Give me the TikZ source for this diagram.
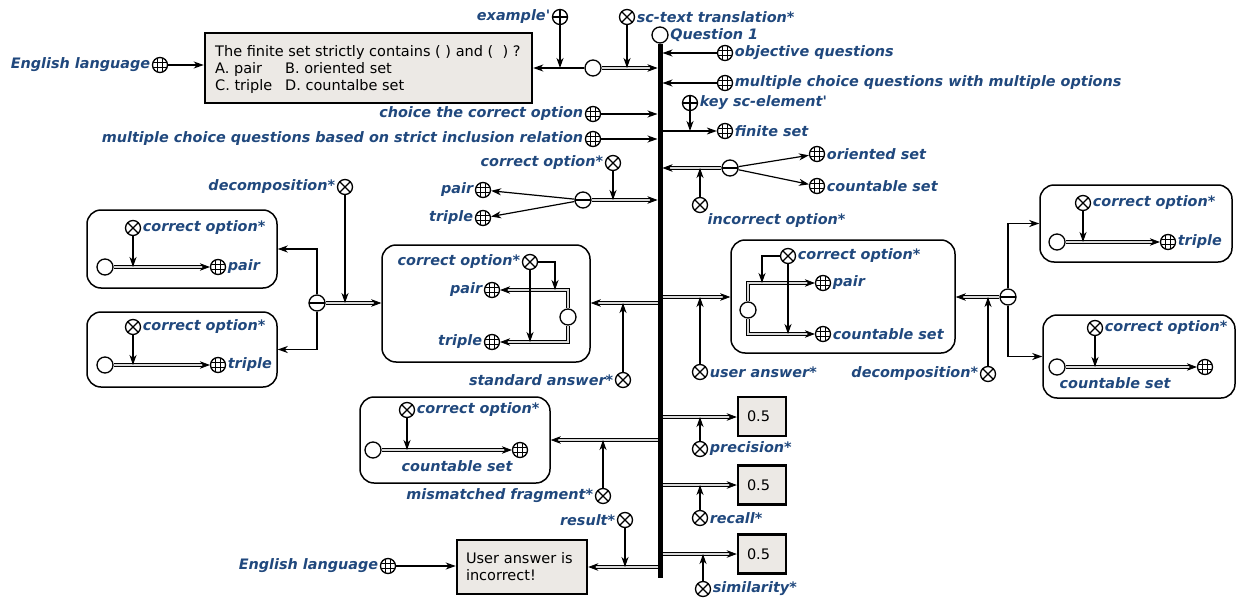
\documentclass[tikz,border=0pt]{standalone}
\usepackage{fontspec}
\setmainfont{DejaVu Sans}
\usetikzlibrary{arrows.meta,calc}
\definecolor{lblblue}{RGB}{32,72,125}
\definecolor{boxgray}{RGB}{236,233,229}
\newcommand\lblf{\fontsize{14.4}{16}\selectfont\bfseries\itshape}
\newcommand\txtf{\fontsize{14.5}{17}\selectfont}
\tikzset{
  sym/.style={circle, draw, line width=1.3pt, inner sep=0pt, minimum size=15pt, fill=white},
  gen/.style={sym, minimum size=16pt},
  cls/.style={sym, path picture={
      \draw[line width=0.7pt] ([xshift=-2.5pt]path picture bounding box.north) -- ([xshift=-2.5pt]path picture bounding box.south);
      \draw[line width=0.7pt] ([xshift=2.5pt]path picture bounding box.north) -- ([xshift=2.5pt]path picture bounding box.south);
      \draw[line width=0.7pt] ([yshift=-2.5pt]path picture bounding box.west) -- ([yshift=-2.5pt]path picture bounding box.east);
      \draw[line width=0.7pt] ([yshift=2.5pt]path picture bounding box.west) -- ([yshift=2.5pt]path picture bounding box.east);}},
  rel/.style={sym, path picture={
      \draw[line width=1.1pt] (path picture bounding box.north west) -- (path picture bounding box.south east);
      \draw[line width=1.1pt] (path picture bounding box.north east) -- (path picture bounding box.south west);}},
  role/.style={sym, path picture={
      \draw[line width=1.1pt] (path picture bounding box.north) -- (path picture bounding box.south);
      \draw[line width=1.1pt] (path picture bounding box.west) -- (path picture bounding box.east);}},
  tup/.style={sym, minimum size=16pt, path picture={
      \draw[line width=1.1pt] (path picture bounding box.west) -- (path picture bounding box.east);}},
  lbl/.style={font=\lblf, text=lblblue, inner sep=1.5pt},
  arr/.style={line width=1.2pt, -{Stealth[length=10pt,width=7pt,inset=3pt]}},
  dbl/.style={line width=0.7pt, double=gray!30, double distance=2.2pt, -{Stealth[length=10pt,width=7.5pt,inset=3pt]}},
  ctr/.style={draw, line width=1.5pt, rounded corners=14pt, inner sep=0pt},
  txtbox/.style={draw, line width=2.5pt, fill=boxgray, font=\txtf, align=left, inner xsep=9pt, inner ysep=0pt,
     path picture={\fill (path picture bounding box.north west) -- ++(6pt,0pt) -- ++(-6pt,-6pt) -- cycle;}},
  boxtext/.style={font=\txtf, align=left, inner sep=0pt, anchor=north west}
}
\begin{document}
\begin{tikzpicture}[x=1pt,y=-1pt]
\useasboundingbox (0,0) rectangle (1239,602);
% bus reference x positions
\coordinate (bL) at (657.5,0);
\coordinate (bR) at (662.5,0);
% contours
\node[ctr, minimum width=190pt, minimum height=78pt] (bl1) at (182,249) {};
\node[ctr, minimum width=190pt, minimum height=75pt] (bl2) at (182,349.5) {};
\node[ctr, minimum width=208pt, minimum height=117pt] (bm) at (486,303.5) {};
\node[ctr, minimum width=224pt, minimum height=113pt] (bu) at (843,296.5) {};
\node[ctr, minimum width=192pt, minimum height=77pt] (br1) at (1136,223.5) {};
\node[ctr, minimum width=192pt, minimum height=83pt] (br2) at (1139,356.5) {};
\node[ctr, minimum width=190pt, minimum height=86pt] (bmm) at (455,440) {};
% bus
\node[gen, label={[lbl]right:Question 1}] (q1) at (660,35) {};
\coordinate (busend) at (660,578);
\draw[line width=5pt] (q1.south) -- (busend);
% top
\node[txtbox, minimum width=327pt, minimum height=70pt] (txt) at (368.5,68) {};
\node[boxtext] (txtt) at (215,45) {The finite set strictly contains ( ) and (\ \ ) ?\\\makebox[70pt][l]{A. pair}B. oriented set\\\makebox[70pt][l]{C. triple}D. countalbe set};
\node[cls, label={[lbl]left:English language}] (eng1) at (160,65) {};
\draw[arr] (eng1) -- (txt.west |- eng1);
\node[gen] (p1) at (593,68) {};
\draw[arr] (p1) -- (txt.east |- p1);
\node[role, label={[lbl]left:example\textquotesingle}] (ex) at (560,17) {};
\draw[arr] (ex) -- (ex |- p1);
\draw[dbl] (p1) -- (bL |- p1);
\node[rel, label={[lbl]right:sc-text translation*}] (sct) at (627,17) {};
\draw[arr] (sct) -- (sct |- p1);
% right top
\node[cls, label={[lbl]right:objective questions}] (oq) at (725,53) {};
\draw[arr] (oq) -- (bR |- oq);
\node[cls, label={[lbl]right:multiple choice questions with multiple options}] (mcq) at (725,83) {};
\draw[arr] (mcq) -- (bR |- mcq);
\node[role, label={[lbl]right:key sc-element\textquotesingle}] (key) at (690,103) {};
\node[cls, label={[lbl]right:finite set}] (fs) at (725,131) {};
\draw[arr] (bR |- fs) -- (fs);
\draw[arr] (key) -- (key |- fs);
% left top
\node[cls, label={[lbl]left:choice the correct option}] (cho) at (593,114) {};
\draw[arr] (cho) -- (bL |- cho);
\node[cls, label={[lbl]left:multiple choice questions based on strict inclusion relation}] (mcs) at (593,139) {};
\draw[arr] (mcs) -- (bL |- mcs);
% incorrect options
\node[tup] (t1) at (730,168) {};
\draw[dbl] (t1) -- (bR |- t1);
\node[rel] (inc) at (700,205) {};
\node[lbl, anchor=west] (incl) at (706,221) {incorrect option*};
\draw[arr] (inc) -- (inc |- t1);
\node[cls, label={[lbl]right:oriented set}] (os) at (817,154) {};
\node[cls, label={[lbl]right:countable set}] (cs) at (817,186) {};
\draw[arr] (t1) -- (os);
\draw[arr] (t1) -- (cs);
% correct options
\node[rel, label={[lbl]left:correct option*}] (co1) at (613,163) {};
\node[tup] (t2) at (583,200) {};
\draw[dbl] (t2) -- (bL |- t2);
\draw[arr] (co1) -- (co1 |- t2);
\node[cls, label={[lbl]left:pair}] (pr1) at (483,190) {};
\node[cls, label={[lbl]left:triple}] (tr1) at (483,218) {};
\draw[arr] (t2) -- (pr1);
\draw[arr] (t2) -- (tr1);
% left decomposition
\node[rel, label={[lbl]left:decomposition*}] (dec1) at (345,187) {};
\node[tup] (t3) at (317,303) {};
\draw[arr] (t3) |- (bl1.east);
\draw[arr] (t3) |- (bl2.east);
\draw[dbl] (t3) -- (bm.west |- t3);
\draw[arr] (dec1) -- (dec1 |- t3);
\node[rel, label={[lbl]right:correct option*}] (ca) at (133,228) {};
\node[gen] (ga) at (105,267) {};
\node[cls, label={[lbl]right:pair}] (ka) at (218,267) {};
\draw[dbl] (ga) -- (ka);
\draw[arr] (ca) -- (ca |- ga);
\node[rel, label={[lbl]right:correct option*}] (cb) at (133,327) {};
\node[gen] (gb) at (105,365) {};
\node[cls, label={[lbl]right:triple}] (kb) at (218,365) {};
\draw[dbl] (gb) -- (kb);
\draw[arr] (cb) -- (cb |- gb);
% standard answer
\node[rel, label={[lbl]left:correct option*}] (cm) at (530,262) {};
\node[cls, label={[lbl]left:pair}] (pm) at (492,290) {};
\node[cls, label={[lbl]left:triple}] (tm) at (492,342) {};
\node[gen] (gm) at (568,317) {};
\draw[dbl] (gm) |- (pm);
\draw[dbl] (gm) |- (tm);
\coordinate (cmx) at (555,290);
\draw[arr] (cm) -| (cmx);
\draw[arr] (cm) -- (cm |- tm);
\coordinate (b303) at (657.5,303);
\draw[dbl] (b303) -- (bm.east |- b303);
\node[rel, label={[lbl]left:standard answer*}] (sa) at (623,380) {};
\draw[arr] (sa) -- (sa |- b303);
% user answer
\coordinate (b297) at (662.5,297);
\draw[dbl] (b297) -- (bu.west |- b297);
\node[rel, label={[lbl]right:user answer*}] (ua) at (700,372) {};
\draw[arr] (ua) -- (ua |- b297);
\node[rel, label={[lbl]right:correct option*}] (cu) at (788,256) {};
\node[gen] (gu) at (748,310) {};
\node[cls, label={[lbl]right:pair}] (pu) at (823,283) {};
\node[cls, label={[lbl]right:countable set}] (su) at (823,334) {};
\draw[dbl] (gu) |- (pu);
\draw[dbl] (gu) |- (su);
\coordinate (cux) at (762,283);
\draw[arr] (cu) -| (cux);
\draw[arr] (cu) -- (cu |- su);
% right decomposition
\node[tup] (t4) at (1008,297) {};
\draw[dbl] (t4) -- (bu.east |- t4);
\node[rel, label={[lbl]left:decomposition*}] (dec2) at (988,374) {};
\draw[arr] (dec2) -- (dec2 |- t4);
\draw[arr] (t4) |- (br1.west);
\draw[arr] (t4) |- (br2.west);
\node[rel, label={[lbl]right:correct option*}] (cc) at (1083,203) {};
\node[gen] (gc) at (1057,242) {};
\node[cls, label={[lbl]right:triple}] (kc) at (1168,242) {};
\draw[dbl] (gc) -- (kc);
\draw[arr] (cc) -- (cc |- gc);
\node[rel, label={[lbl]right:correct option*}] (cd) at (1095,328) {};
\node[gen] (gd) at (1057,367) {};
\node[cls] (kd) at (1205,367) {};
\node[lbl] (kdl) at (1115,383) {countable set};
\draw[dbl] (gd) -- (kd);
\draw[arr] (cd) -- (cd |- gd);
% mismatched fragment
\node[rel, label={[lbl]right:correct option*}] (ce) at (407,410) {};
\node[gen] (ge) at (373,450) {};
\node[cls] (ke) at (520,450) {};
\node[lbl] (kel) at (457,466) {countable set};
\draw[dbl] (ge) -- (ke);
\draw[arr] (ce) -- (ce |- ge);
\coordinate (b440) at (657.5,440);
\draw[dbl] (b440) -- (bmm.east |- b440);
\node[rel, label={[lbl]left:mismatched fragment*}] (mf) at (603,496) {};
\draw[arr] (mf) -- (mf |- b440);
% result
\node[txtbox, minimum width=130pt, minimum height=54pt, text width=112pt] (bui) at (522,567) {User answer is\\incorrect!};
\node[rel, label={[lbl]left:result*}] (res) at (625,520) {};
\coordinate (b567) at (657.5,567);
\draw[dbl] (b567) -- (bui.east |- b567);
\draw[arr] (res) -- (res |- b567);
\node[cls, label={[lbl]left:English language}] (eng2) at (388,566) {};
\draw[arr] (eng2) -- (bui.west |- eng2);
% values
\node[txtbox, minimum width=48pt, minimum height=39pt, text width=30pt] (v1) at (762,416.5) {0.5};
\node[txtbox, minimum width=48pt, minimum height=39pt, text width=30pt] (v2) at (762,485) {0.5};
\node[txtbox, minimum width=48pt, minimum height=39pt, text width=30pt] (v3) at (762,554) {0.5};
\coordinate (b417) at (662.5,417);
\coordinate (b485) at (662.5,485);
\coordinate (b554) at (662.5,554);
\draw[dbl] (b417) -- (v1.west |- b417);
\draw[dbl] (b485) -- (v2.west |- b485);
\draw[dbl] (b554) -- (v3.west |- b554);
\node[rel, label={[lbl]right:precision*}] (prc) at (700,449) {};
\draw[arr] (prc) -- (prc |- b417);
\node[rel, label={[lbl]right:recall*}] (rcl) at (700,518) {};
\draw[arr] (rcl) -- (rcl |- b485);
\node[rel, label={[lbl]right:similarity*}] (sml) at (703,589) {};
\draw[arr] (sml) -- (sml |- b554);
\end{tikzpicture}
\end{document}
